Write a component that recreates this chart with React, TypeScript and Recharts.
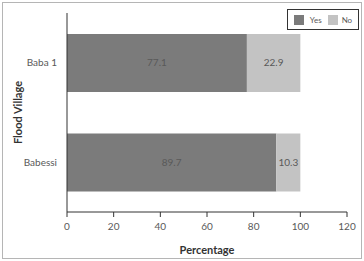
import { BarChart, Bar, XAxis, YAxis, LabelList } from "recharts";

const villages = ["Baba 1", "Babessi"];
const yesValues = [77.1, 89.7];
const noValues = [22.9, 10.3];
const xTicks = [0, 20, 40, 60, 80, 100, 120];

const YES_COLOR = "#7b7b7b";
const NO_COLOR = "#c3c3c3";
const TEXT = "#595959";
const FONT = "Lato, 'Open Sans', sans-serif";

const data = villages.map((name, i) => ({
  name,
  yes: yesValues[i],
  no: noValues[i],
}));

export default function App() {
  return (
    <div
      style={{
        position: "fixed",
        top: 0,
        left: 0,
        width: 364,
        height: 261,
        background: "#fff",
        fontFamily: FONT,
      }}
    >
      <div
        style={{
          position: "absolute",
          left: 2,
          top: 2,
          width: 358,
          height: 255,
          border: "1px solid #b5b5b5",
        }}
      />
      <BarChart
        width={364}
        height={261}
        data={data}
        layout="vertical"
        margin={{ top: 13, right: 17, bottom: 0, left: 0 }}
        barCategoryGap="21%"
      >
        <XAxis
          type="number"
          domain={[0, 120]}
          ticks={xTicks}
          stroke="#333"
          tickSize={5}
          tickMargin={6}
          tick={{ fill: TEXT, fontSize: 10, fontFamily: FONT }}
          label={{
            value: "Percentage",
            position: "insideBottom",
            offset: 7,
            fill: "#333",
            fontSize: 11,
            fontWeight: 700,
            fontFamily: FONT,
          }}
          height={49}
        />
        <YAxis
          type="category"
          dataKey="name"
          width={67}
          stroke="#333"
          tickLine={false}
          tickMargin={4}
          tick={{ fill: TEXT, fontSize: 10, fontFamily: FONT }}
          label={{
            value: "Flood Village",
            angle: -90,
            position: "insideLeft",
            offset: 18,
            style: { textAnchor: "middle" },
            fill: "#333",
            fontSize: 11,
            fontWeight: 700,
            fontFamily: FONT,
          }}
        />
        <Bar dataKey="yes" stackId="a" fill={YES_COLOR} isAnimationActive={false}>
          <LabelList
            dataKey="yes"
            position="center"
            fill={TEXT}
            fontSize={10}
            fontFamily={FONT}
          />
        </Bar>
        <Bar dataKey="no" stackId="a" fill={NO_COLOR} isAnimationActive={false}>
          <LabelList
            dataKey="no"
            position="center"
            fill={TEXT}
            fontSize={10}
            fontFamily={FONT}
          />
        </Bar>
      </BarChart>
      <div
        style={{
          position: "absolute",
          left: 287,
          top: 9,
          width: 70,
          height: 19,
          border: "1px solid #333",
          display: "flex",
          alignItems: "center",
          justifyContent: "center",
          gap: 6,
          fontSize: 8,
          color: TEXT,
        }}
      >
        <span style={{ display: "flex", alignItems: "center" }}>
          <span
            style={{
              display: "inline-block",
              width: 10,
              height: 10,
              background: YES_COLOR,
              marginRight: 6,
            }}
          />
          Yes
        </span>
        <span style={{ display: "flex", alignItems: "center" }}>
          <span
            style={{
              display: "inline-block",
              width: 10,
              height: 10,
              background: NO_COLOR,
              marginRight: 4,
            }}
          />
          No
        </span>
      </div>
    </div>
  );
}
